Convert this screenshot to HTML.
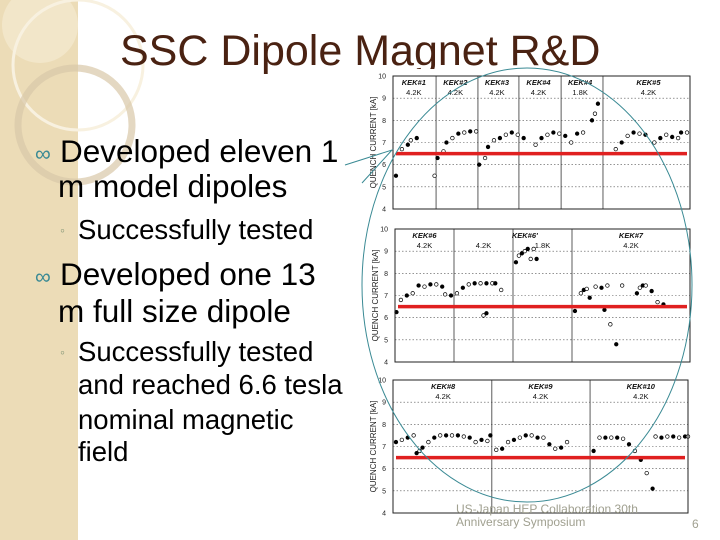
<!DOCTYPE html>
<html><head><meta charset="utf-8">
<style>
body{margin:0;width:720px;height:540px;overflow:hidden;background:#fff;font-family:"Liberation Sans",sans-serif;position:relative}
.t{position:absolute;white-space:nowrap;color:#000;line-height:1}
.b{font-size:31.5px}
.s{font-size:27.5px}
.bul{position:absolute;color:#3a8a94;font-size:22px;line-height:1}
.sb{position:absolute;color:#8a9a7a;font-size:14px;line-height:1}
</style></head><body>
<svg style="position:absolute;left:0;top:0" width="720" height="540">
<rect x="0" y="0" width="78" height="540" fill="#efe0bd"/>
<rect x="0" y="0" width="78" height="540" fill="#e8d6ae" opacity="0.4"/>
<circle cx="40" cy="25" r="38" fill="#f5ead0" opacity="0.7"/>
<circle cx="78" cy="65" r="65" fill="none" stroke="#f8f1e0" stroke-width="3"/>
<circle cx="75" cy="125" r="57" fill="none" stroke="#d8c8a8" stroke-width="7" opacity="0.7"/>
</svg>
<div class="t" style="left:120px;top:30px;font-size:43px;color:#4a2212">SSC Dipole Magnet R&amp;D</div>
<div class="bul" style="left:35px;top:143px">&#8734;</div>
<div class="t b" style="left:60px;top:136px">Developed eleven 1</div>
<div class="t b" style="left:58px;top:171px">m model dipoles</div>
<div class="sb" style="left:60px;top:223px">&#9702;</div>
<div class="t s" style="left:78px;top:216px">Successfully tested</div>
<div class="bul" style="left:35px;top:266px">&#8734;</div>
<div class="t b" style="left:60px;top:259px">Developed one 13</div>
<div class="t b" style="left:58px;top:296px">m full size dipole</div>
<div class="sb" style="left:60px;top:345px">&#9702;</div>
<div class="t s" style="left:78px;top:338px">Successfully tested</div>
<div class="t s" style="left:78px;top:371px">and reached 6.6 tesla</div>
<div class="t s" style="left:78px;top:406px">nominal magnetic</div>
<div class="t s" style="left:78px;top:438px">field</div>
<svg id="ch" style="position:absolute;left:0;top:0" width="720" height="540"><rect x="364" y="69" width="336" height="446" fill="#fff"/></svg>
<div class="t" style="left:456px;top:503px;font-size:12px;color:#a0a090;line-height:13px">US-Japan HEP Collaboration 30th<br>Anniversary Symposium</div>
<div class="t" style="left:692px;top:518px;font-size:12px;color:#a0a090">6</div>
<script>
const yTicks=[4,5,6,7,8,9,10];
const nominal=6.5;
const p1Dividers=[14.5,28.6,42.4,56.6,70.7];
const p1Labels=[["KEK#1","4.2K",7],["KEK#2","4.2K",21],["KEK#3","4.2K",35],["KEK#4","4.2K",49],["KEK#4","1.8K",63],["KEK#5","4.2K",86]];
const p1X=[1,3,5,6,8,14,15,17,18,20,22,24,26,28,29,31,32,34,36,38,40,42,44,48,50,52,54,56,58,60,62,64,67,68,69,75,77,79,81,83,85,88,90,92,94,96,97,99];
const p1Y=[5.5,6.7,6.9,7.1,7.2,5.5,6.3,6.6,7.0,7.2,7.4,7.45,7.5,7.5,6.0,6.3,6.8,7.1,7.2,7.35,7.45,7.35,7.2,6.9,7.2,7.35,7.45,7.4,7.3,7.0,7.4,7.45,8.0,8.3,8.75,6.7,7.0,7.3,7.45,7.4,7.35,7.0,7.2,7.35,7.25,7.2,7.45,7.45];
const p2Dividers=[20,40,60];
const p2Labels=[["KEK#6","4.2K",10],["","4.2K",30],["KEK#6'","",44],["","1.8K",50],["KEK#7","4.2K",80]];
const p2X=[0.5,2,4,6,8,10,12,14,16,17,19,21,23,25,27,29,31,33,34,30,31,36,41,42,43,44,45,46,48,47,61,63,64,65,66,68,70,72,71,73,75,77,82,83,84,85,87,89,91];
const p2Y=[6.25,6.8,7.0,7.1,7.45,7.4,7.5,7.5,7.4,7.05,7.0,7.1,7.35,7.5,7.55,7.55,7.55,7.55,7.55,6.1,6.2,7.25,8.5,8.8,8.9,9.0,9.1,8.65,8.65,9.1,6.3,7.1,7.25,7.3,6.9,7.4,7.35,7.45,6.35,5.7,4.8,7.45,7.1,7.35,7.45,7.45,7.2,6.7,6.6];
const p3Dividers=[33.5,66.8];
const p3Labels=[["KEK#8","4.2K",17],["KEK#9","4.2K",50],["KEK#10","4.2K",84]];
const p3X=[1,3,5,7,8,9,10,12,14,16,18,20,22,24,26,28,30,32,33,35,37,39,41,43,45,47,49,51,53,55,57,59,68,70,72,74,76,78,80,82,84,86,88,89,91,93,95,97,99,100];
const p3Y=[7.2,7.3,7.4,7.5,6.7,6.8,6.95,7.2,7.4,7.5,7.5,7.5,7.5,7.45,7.4,7.2,7.3,7.25,7.5,6.85,6.9,7.2,7.3,7.4,7.5,7.5,7.4,7.4,7.1,6.9,6.95,7.2,6.8,7.4,7.4,7.4,7.4,7.35,7.1,6.8,6.4,5.8,5.1,7.45,7.4,7.45,7.45,7.4,7.45,7.45];
const svg=document.getElementById('ch');const NS='http://www.w3.org/2000/svg';
function mk(t,a,p){const e=document.createElementNS(NS,t);for(const k in a)e.setAttribute(k,a[k]);(p||svg).appendChild(e);return e;}
function panel(name,L,R,T,B,divs,labels,xs,ys){
 const g=mk('g',{});
 
 
 const sx=v=>L+(R-L)*v/100, sy=v=>B-(B-T)*(v-4)/6;
 yTicks.forEach(v=>{
  if(v>4&&v<10){const gl=mk('line',{x1:L,x2:R,y1:sy(v),y2:sy(v),stroke:'#555','stroke-width':0.6,'stroke-dasharray':'1.5,2'},g);}
  const t=mk('text',{x:L-7,y:sy(v)+2.5,'font-size':7,'text-anchor':'end',fill:'#222'},g);t.textContent=v;
  
 });
 const yl=mk('text',{transform:`translate(${L-17},${(T+B)/2}) rotate(-90)`,'font-size':8,'text-anchor':'middle',fill:'#222'},g);yl.textContent='QUENCH CURRENT [kA]';
 
 divs.forEach(d=>{const l=mk('line',{x1:sx(d),x2:sx(d),y1:T,y2:B,stroke:'#333','stroke-width':0.8},g);});
 labels.forEach(lb=>{
  if(lb[0]){const a=mk('text',{x:sx(lb[2]),y:T+9,'font-size':7.5,'font-style':'italic','font-weight':'bold','text-anchor':'middle',fill:'#111'},g);a.textContent=lb[0];}
  if(lb[1]){const b=mk('text',{x:sx(lb[2]),y:T+19,'font-size':7.5,'text-anchor':'middle',fill:'#111'},g);b.textContent=lb[1];}
 });
 xs.forEach((x,i)=>{const f=i%2==0;const c=mk('circle',{cx:sx(x),cy:sy(ys[i]),r:1.8,fill:f?'#000':'#fff',stroke:'#000','stroke-width':0.7},g);});
 const fr=mk('rect',{x:L,y:T,width:R-L,height:B-T,fill:'none',stroke:'#222','stroke-width':1},g);
 const rl=mk('line',{x1:L+3,x2:R-3,y1:sy(nominal),y2:sy(nominal),stroke:'#e02020','stroke-width':3.5},g);
}
panel('panel-kek1-5',393,690,76,209,p1Dividers,p1Labels,p1X,p1Y);
panel('panel-kek6-7',395,690,229,362,p2Dividers,p2Labels,p2X,p2Y);
panel('panel-kek8-10',393,688,380,513,p3Dividers,p3Labels,p3X,p3Y);
const el=mk('ellipse',{cx:527,cy:285,rx:165,ry:217,fill:'none',stroke:'#3a8a94','stroke-width':1});


const c1=mk('polyline',{points:'345,165 392,150 362,183',fill:'none',stroke:'#3a8a94','stroke-width':1});


</script>
</body></html>
